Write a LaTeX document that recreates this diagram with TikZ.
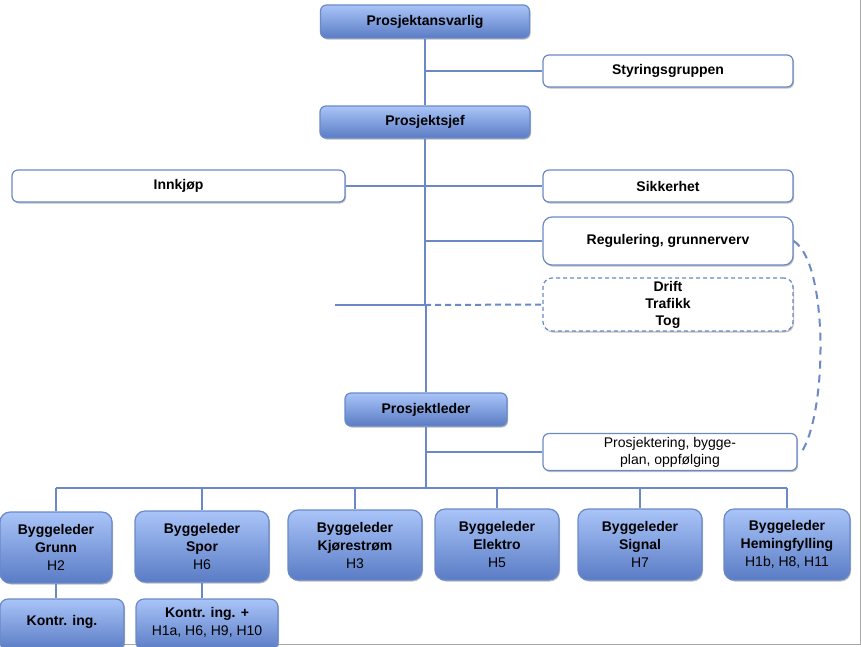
\documentclass[tikz,border=0pt]{standalone}
\usepackage{fontspec}
\setmainfont{Liberation Sans}
\usetikzlibrary{shadows}
\definecolor{lineblue}{HTML}{6A89C6}
\definecolor{topblue}{HTML}{A9C4F8}
\definecolor{botblue}{HTML}{5A7CC5}
\definecolor{framegray}{HTML}{A8A8A8}
\tikzset{
  boxbase/.style={draw=lineblue, line width=1.2pt, rounded corners=6pt, align=center,
    inner sep=0pt, font=\fontsize{14}{17}\selectfont\bfseries,
    drop shadow={shadow xshift=1pt, shadow yshift=-1.5pt, opacity=0.25, fill=black}},
  bluebox/.style={boxbase, top color=topblue, bottom color=botblue},
  bigblue/.style={bluebox, rounded corners=10pt, font=\fontsize{14}{18}\selectfont\bfseries},
  whitebox/.style={boxbase, fill=white},
  dashbox/.style={boxbase, fill=white, dash pattern=on 4pt off 3pt},
  conn/.style={draw=lineblue, line width=2pt},
  dconn/.style={conn, dash pattern=on 6pt off 4pt},
  curveconn/.style={conn, line width=2pt, dash pattern=on 8pt off 6pt}
}
\begin{document}
\begin{tikzpicture}[x=1pt, y=-1pt]
\useasboundingbox (0,0) rectangle (861,646);
\draw[framegray, line width=1pt] (860,0) -- (860,644) -- (0,644);

% top boxes
\node[bluebox, minimum width=209pt, minimum height=33pt] (pa) at (425,21.5) {Prosjektansvarlig};
\node[whitebox, minimum width=250pt, minimum height=32pt] (sg) at (668,71) {Styringsgruppen};
\node[bluebox, minimum width=210pt, minimum height=32pt] (ps) at (425,122) {Prosjektsjef};
\node[whitebox, minimum width=333pt, minimum height=32pt] (ink) at (178.5,186) {Innkjøp};
\node[whitebox, minimum width=250pt, minimum height=32pt] (sik) at (668,186) {Sikkerhet};
\node[whitebox, rounded corners=9pt, minimum width=250pt, minimum height=48pt] (reg) at (668,241) {Regulering, grunnerverv};
\node[dashbox, rounded corners=9pt, minimum width=250pt, minimum height=53pt] (drift) at (668,304.5) {Drift\\Trafikk\\Tog};
\node[bluebox, minimum width=162pt, minimum height=33pt] (pl) at (426,409.5) {Prosjektleder};
\node[whitebox, font=\fontsize{14}{17}\selectfont, minimum width=254pt, minimum height=37pt] (proj) at (670,452) {Prosjektering, bygge-\\plan, oppfølging};

% byggeledere
\node[bigblue, minimum width=112pt, minimum height=71pt] (bg) at (56,547.5) {Byggeleder\\Grunn\\\mdseries H2};
\node[bigblue, minimum width=134pt, minimum height=71pt] (bs) at (202,546.5) {Byggeleder\\Spor\\\mdseries H6};
\node[bigblue, minimum width=134pt, minimum height=70pt] (bk) at (355,545) {Byggeleder\\Kjørestrøm\\\mdseries H3};
\node[bigblue, minimum width=124pt, minimum height=71pt] (be) at (497,544.5) {Byggeleder\\Elektro\\\mdseries H5};
\node[bigblue, minimum width=124pt, minimum height=71pt] (bsi) at (640,544.5) {Byggeleder\\Signal\\\mdseries H7};
\node[bigblue, minimum width=126pt, minimum height=71pt] (bh) at (787,544.5) {Byggeleder\\Hemingfylling\\\mdseries H1b, H8, H11};
\node[bluebox, rounded corners=8pt, minimum width=124pt, minimum height=51pt] (kg) at (62,624.5) {};
\node[font=\fontsize{14}{17}\selectfont\bfseries] (kgtext) at (62,622) {Kontr. ing.};
\node[bluebox, rounded corners=8pt, minimum width=142pt, minimum height=51pt] (ks) at (207,624.5) {};
\node[font=\fontsize{14}{18}\selectfont\bfseries, align=center] (kstext) at (207,622) {Kontr. ing. +\\\mdseries H1a, H6, H9, H10};

% connectors
\coordinate (spine) at (425,0);
\coordinate (dl) at (335,305);
\coordinate (bus) at (0,488);
\draw[conn] (pa.south) -- (ps.north);
\draw[conn] (pa.south |- sg.west) -- (sg.west);
\draw[conn] (ps.south) -- (spine |- dl);
\draw[conn] (pl.north |- dl) -- (pl.north);
\draw[conn] (ink.east) -- (sik.west);
\draw[conn] (spine |- reg.west) -- (reg.west);
\draw[conn] (dl) -- (spine |- dl);
\draw[dconn] (spine |- dl) -- (drift.west);
\draw[conn] (pl.south) -- (pl.south |- bus);
\draw[conn] (pl.south |- proj.west) -- (proj.west);
\draw[conn] (bg.north |- bus) -- (bh.north |- bus);
\foreach \n in {bg,bs,bk,be,bsi,bh} \draw[conn] (\n.north |- bus) -- (\n.north);
\draw[conn] (bg.south) -- (bg.south |- kg.north);
\draw[conn] (bs.south) -- (bs.south |- ks.north);
\draw[curveconn] (reg.east) .. controls (828,262) and (828,410) .. ([xshift=4pt]proj.east);
\end{tikzpicture}
\end{document}
